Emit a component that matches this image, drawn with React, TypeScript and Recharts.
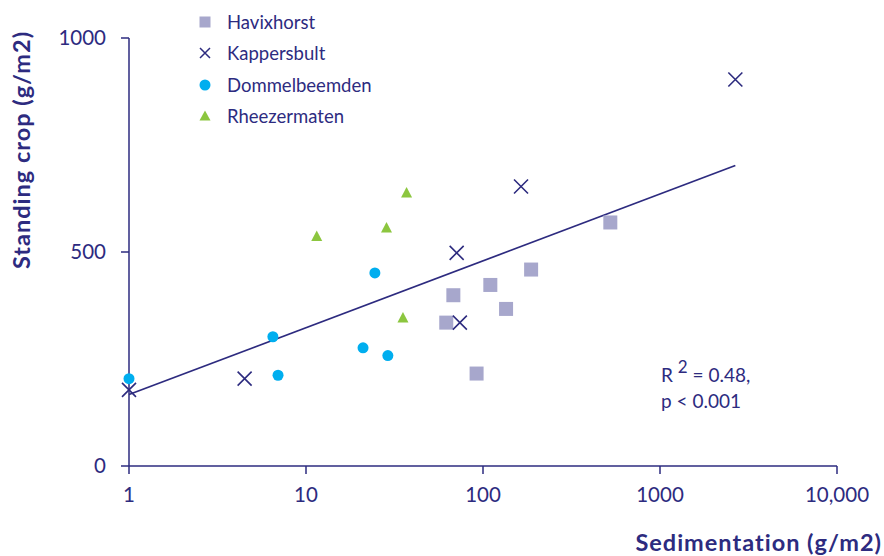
import { ScatterChart, Scatter, XAxis, YAxis, Legend } from "recharts";

const NAVY = "#2d2b7f";
const LILAC = "#a7a7cc";
const CYAN = "#00aeef";
const GREEN = "#8cc63f";
const FONT = "Lato, 'Open Sans', sans-serif";

// sedimentation (g/m2) and standing crop (g/m2) per site
const havixX = [524, 187, 110, 68, 135, 62, 92];
const havixY = [569, 459, 423, 399, 367, 335, 216];
const kapX = [2665, 164, 71, 74, 4.5, 1];
const kapY = [903, 653, 498, 335, 204, 178];
const dommelX = [24.5, 6.5, 6.95, 21, 29, 1];
const dommelY = [451, 302, 212, 276, 258, 204];
const rheeX = [11.5, 28.5, 37, 35.3];
const rheeY = [536, 556, 638, 346];

// regression line end points
const fitX = [1, 2665];
const fitY = [167, 702];

const xTicks = [1, 10, 100, 1000, 10000];
const yTicks = [0, 500, 1000];
const siteNames = ["Havixhorst", "Kappersbult", "Dommelbeemden", "Rheezermaten"];

const toPoints = (xs: number[], ys: number[]) => xs.map((x, i) => ({ x, y: ys[i] }));

const Square = (p: any) => <rect x={p.cx - 7} y={p.cy - 7} width={14} height={14} fill={LILAC} />;
const Cross = (p: any) => (
  <path
    d={`M${p.cx - 7},${p.cy - 7}L${p.cx + 7},${p.cy + 7}M${p.cx + 7},${p.cy - 7}L${p.cx - 7},${p.cy + 7}`}
    stroke={NAVY}
    strokeWidth={1.6}
    fill="none"
  />
);
const Dot = (p: any) => <circle cx={p.cx} cy={p.cy} r={5.5} fill={CYAN} />;
const Tri = (p: any) => (
  <polygon points={`${p.cx},${p.cy - 6} ${p.cx + 5.5},${p.cy + 4.5} ${p.cx - 5.5},${p.cy + 4.5}`} fill={GREEN} />
);
const Nothing = () => <g />;

function LegendIcon({ i }: { i: number }) {
  return (
    <svg width={16} height={16} style={{ display: "block" }}>
      {i === 0 && <rect x={2.5} y={2.5} width={11} height={11} fill={LILAC} />}
      {i === 1 && <path d="M3,3L13,13M13,3L3,13" stroke={NAVY} strokeWidth={1.5} />}
      {i === 2 && <circle cx={8} cy={8} r={5.5} fill={CYAN} />}
      {i === 3 && <polygon points="8,2.5 13.5,12.5 2.5,12.5" fill={GREEN} />}
    </svg>
  );
}

function SiteLegend() {
  return (
    <div>
      {siteNames.map((name, i) => (
        <div key={name} style={{ display: "flex", alignItems: "center", height: 31.3 }}>
          <LegendIcon i={i} />
          <span style={{ marginLeft: 14, fontFamily: FONT, fontSize: 18.5, color: NAVY }}>{name}</span>
        </div>
      ))}
    </div>
  );
}

export default function App() {
  return (
    <div style={{ position: "absolute", left: 0, top: 0, background: "#fff" }}>
      <ScatterChart width={884} height={556} margin={{ top: 38, right: 47, bottom: 60, left: 69 }}>
        <XAxis
          type="number"
          dataKey="x"
          scale="log"
          domain={[1, 10000]}
          ticks={xTicks}
          tickFormatter={(v: number) => (v === 10000 ? "10,000" : String(v))}
          stroke={NAVY}
          strokeWidth={1.5}
          tickSize={8}
          tickMargin={13}
          height={30}
          tick={{ fill: NAVY, fontSize: 20.5, fontFamily: FONT }}
        />
        <YAxis
          type="number"
          dataKey="y"
          domain={[0, 1000]}
          ticks={yTicks}
          stroke={NAVY}
          strokeWidth={1.5}
          tickSize={8}
          tickMargin={15}
          width={60}
          tick={{ fill: NAVY, fontSize: 20.5, fontFamily: FONT }}
        />
        <Legend
          layout="vertical"
          align="center"
          verticalAlign="middle"
          content={() => <SiteLegend />}
          wrapperStyle={{ left: 197, top: 6.5, width: 220 }}
        />
        <Scatter data={toPoints(fitX, fitY)} line={{ stroke: NAVY, strokeWidth: 1.7 }} shape={Nothing} legendType="none" isAnimationActive={false} />
        <Scatter name="Havixhorst" data={toPoints(havixX, havixY)} shape={Square} isAnimationActive={false} />
        <Scatter name="Kappersbult" data={toPoints(kapX, kapY)} shape={Cross} isAnimationActive={false} />
        <Scatter name="Dommelbeemden" data={toPoints(dommelX, dommelY)} shape={Dot} isAnimationActive={false} />
        <Scatter name="Rheezermaten" data={toPoints(rheeX, rheeY)} shape={Tri} isAnimationActive={false} />
        <text x={661} y={382} fill={NAVY} fontFamily={FONT} fontSize={19}>
          R <tspan dy={-9} fontSize={17}>2</tspan>
          <tspan dy={9}> = 0.48,</tspan>
        </text>
        <text x={661} y={408} fill={NAVY} fontFamily={FONT} fontSize={19}>
          p &lt; 0.001
        </text>
        <text x={882} y={551} textAnchor="end" fill={NAVY} fontFamily={FONT} fontSize={23.5} fontWeight={700} letterSpacing={1}>
          Sedimentation (g/m2)
        </text>
        <text
          x={30}
          y={150}
          transform="rotate(-90 30 150)"
          textAnchor="middle"
          fill={NAVY}
          fontFamily={FONT}
          fontSize={23.5}
          fontWeight={700}
          letterSpacing={1}
        >
          Standing crop (g/m2)
        </text>
      </ScatterChart>
    </div>
  );
}
